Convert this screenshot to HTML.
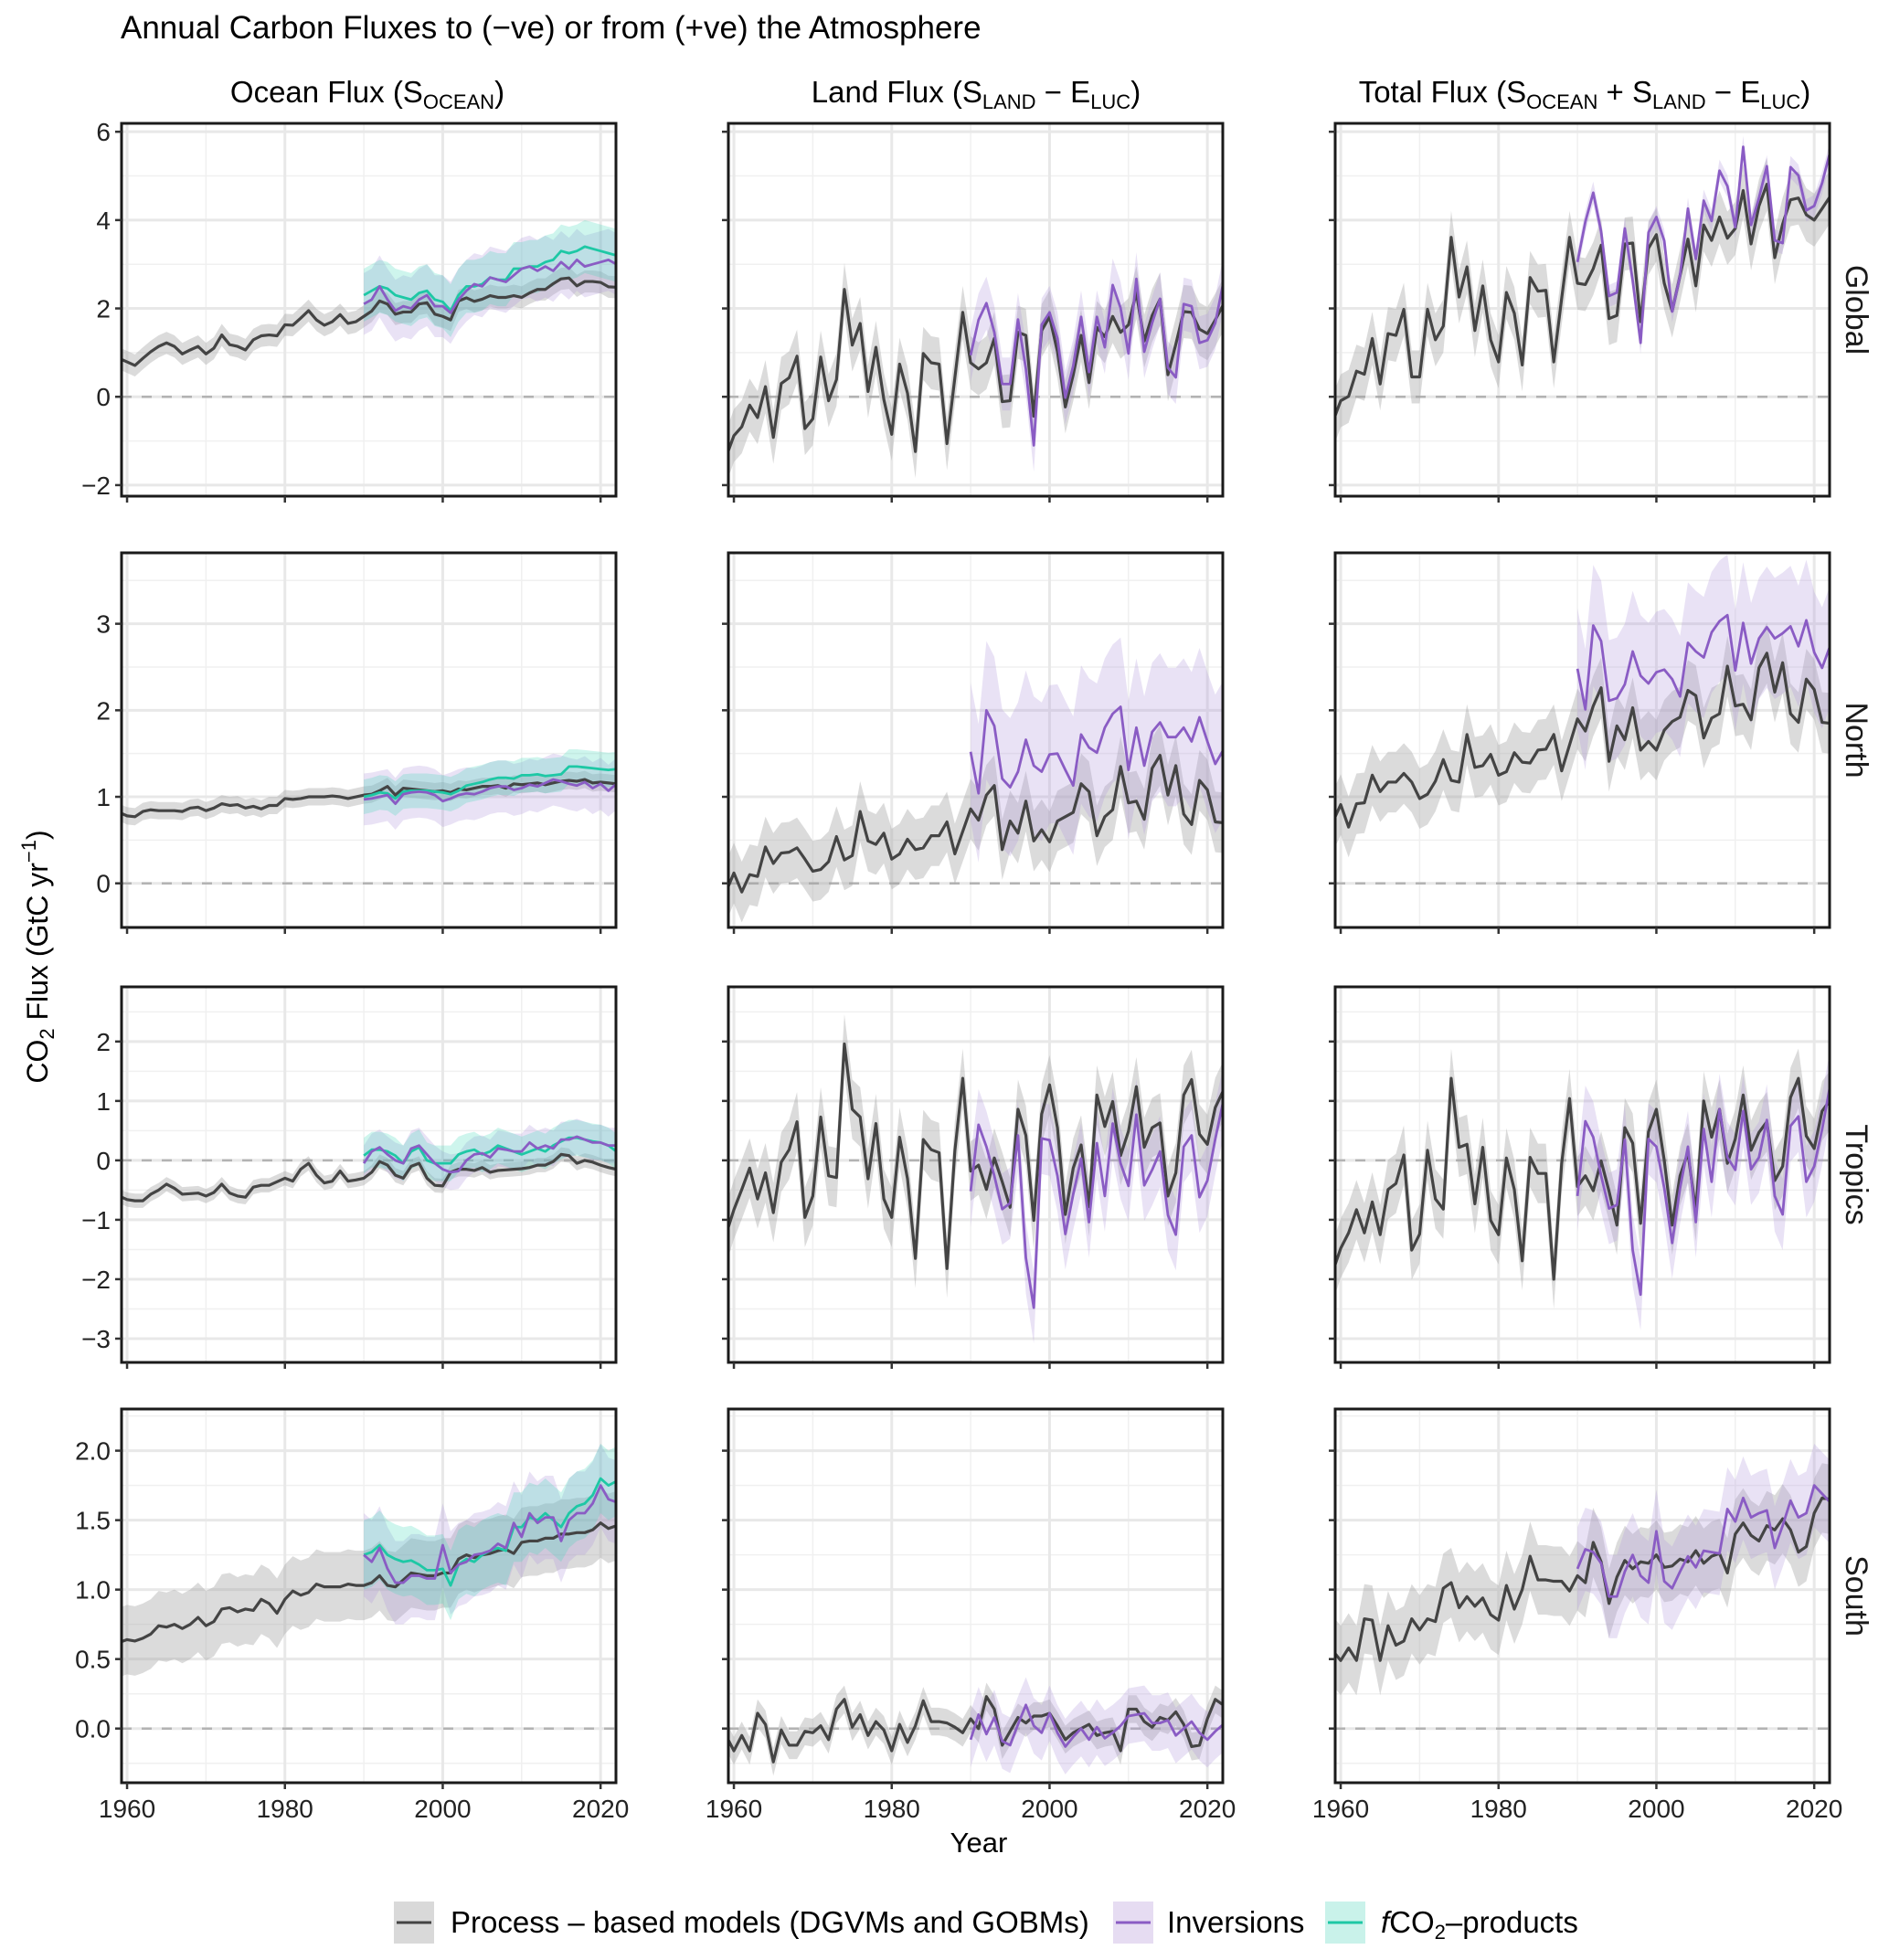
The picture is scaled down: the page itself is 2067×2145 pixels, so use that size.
<!DOCTYPE html>
<html><head><meta charset="utf-8">
<style>
html,body{margin:0;padding:0;background:#fff;}
svg{display:block;font-family:"Liberation Sans",Arial,sans-serif;}
</style></head>
<body>
<svg id="chart" width="2067" height="2145" viewBox="0 0 2067 2145" xmlns="http://www.w3.org/2000/svg">
<rect x="0" y="0" width="2067" height="2145" fill="#fff"/>
<text x="132" y="42" font-size="35" fill="#000">Annual Carbon Fluxes to (−ve) or from (+ve) the Atmosphere</text>
<text x="402" y="112" font-size="33" text-anchor="middle">Ocean Flux (S<tspan font-size="22" dy="7">OCEAN</tspan><tspan dy="-7">)</tspan></text>
<text x="1068" y="112" font-size="33" text-anchor="middle">Land Flux (S<tspan font-size="22" dy="7">LAND</tspan><tspan dy="-7"> − E</tspan><tspan font-size="22" dy="7">LUC</tspan><tspan dy="-7">)</tspan></text>
<text x="1734" y="112" font-size="33" text-anchor="middle">Total Flux (S<tspan font-size="22" dy="7">OCEAN</tspan><tspan dy="-7"> + S</tspan><tspan font-size="22" dy="7">LAND</tspan><tspan dy="-7"> − E</tspan><tspan font-size="22" dy="7">LUC</tspan><tspan dy="-7">)</tspan></text>
<text transform="translate(52,1047) rotate(-90)" font-size="32" text-anchor="middle">CO<tspan font-size="22" dy="7">2</tspan><tspan dy="-7"> Flux (GtC yr</tspan><tspan font-size="22" dy="-13">−1</tspan><tspan dy="13">)</tspan></text>
<text x="1071" y="2027" font-size="31" text-anchor="middle">Year</text>
<g>
  <rect x="431" y="2081" width="44" height="46" fill="#d9d9d9"/>
  <line x1="434" y1="2104" x2="472" y2="2104" stroke="#444" stroke-width="3"/>
  <text x="493" y="2115" font-size="33">Process – based models (DGVMs and GOBMs)</text>
  <rect x="1218" y="2081" width="44" height="46" fill="#e6dcf2"/>
  <line x1="1221" y1="2104" x2="1259" y2="2104" stroke="#8a5cc4" stroke-width="3"/>
  <text x="1277" y="2115" font-size="33">Inversions</text>
  <rect x="1450" y="2081" width="44" height="46" fill="#c9f2ea"/>
  <line x1="1453" y1="2104" x2="1491" y2="2104" stroke="#1ec8a5" stroke-width="3"/>
  <text x="1511" y="2115" font-size="33"><tspan font-style="italic">f</tspan>CO<tspan font-size="22" dy="7">2</tspan><tspan dy="-7">–products</tspan></text>
</g>
</svg>
<script>
// ---------- data (GtC/yr) ----------
const procStart = 1959;
const obsStart = 1990;
const rowNames = ["Global","North","Tropics","South"];
const colNames = ["ocean","land","total"];
const xTicks = [1960,1980,2000,2020];
const xMinor = [1970,1990,2010];
const row1Ticks = [-2,0,2,4,6];
const row2Ticks = [0,1,2,3];
const row3Ticks = [-3,-2,-1,0,1,2];
const row4Ticks = [0,0.5,1,1.5,2];
const row4Labels = ["0.0","0.5","1.0","1.5","2.0"];

const oceanGlobalProc = [0.87,0.79,0.71,0.87,1.02,1.14,1.22,1.14,0.97,1.06,1.14,0.97,1.1,1.4,1.18,1.14,1.06,1.29,1.38,1.4,1.38,1.63,1.62,1.78,1.95,1.74,1.62,1.7,1.86,1.66,1.7,1.82,1.94,2.17,2.1,1.87,1.92,1.92,2.1,2.13,1.87,1.82,1.74,2.17,2.24,2.16,2.21,2.29,2.25,2.25,2.29,2.25,2.35,2.43,2.43,2.56,2.67,2.69,2.51,2.61,2.61,2.59,2.49,2.48];
const oceanGlobalInv = [2.1,2.2,2.5,2.2,1.95,2.05,2.0,2.2,2.3,2.05,2.05,1.9,2.2,2.4,2.55,2.5,2.7,2.65,2.6,2.75,2.9,2.95,2.85,2.95,2.85,3.05,2.9,3.1,2.95,3.0,3.05,3.1,3.0];
const oceanGlobalFco2 = [2.3,2.4,2.5,2.45,2.3,2.25,2.2,2.35,2.4,2.2,2.15,1.95,2.3,2.5,2.5,2.55,2.7,2.65,2.65,2.9,2.9,2.95,2.95,3.05,3.1,3.3,3.25,3.3,3.4,3.35,3.3,3.25,3.2];
const oceanNorthProc = [0.82,0.78,0.77,0.83,0.85,0.84,0.84,0.84,0.83,0.87,0.88,0.84,0.87,0.92,0.9,0.91,0.87,0.89,0.86,0.9,0.9,0.98,0.97,0.98,1.0,1.0,1.0,1.01,1.0,0.98,1.0,1.02,1.03,1.07,1.12,1.02,1.1,1.09,1.08,1.07,1.06,1.07,1.05,1.09,1.08,1.1,1.12,1.12,1.13,1.1,1.15,1.14,1.15,1.16,1.14,1.16,1.18,1.19,1.18,1.2,1.16,1.17,1.16,1.15];
const oceanNorthInv = [0.97,0.98,1.0,1.02,0.92,1.03,1.05,1.06,1.05,1.02,0.95,0.98,1.02,1.04,1.03,1.06,1.1,1.12,1.12,1.08,1.1,1.14,1.12,1.16,1.2,1.18,1.15,1.13,1.17,1.1,1.15,1.07,1.15];
const oceanNorthFco2 = [1.0,1.02,1.05,1.04,0.98,1.06,1.07,1.07,1.07,1.06,1.05,1.03,1.07,1.13,1.15,1.17,1.2,1.22,1.22,1.21,1.25,1.25,1.26,1.24,1.25,1.26,1.35,1.35,1.34,1.33,1.32,1.31,1.32];
const oceanTropicsProc = [-0.6,-0.66,-0.68,-0.68,-0.57,-0.5,-0.4,-0.47,-0.57,-0.56,-0.55,-0.6,-0.54,-0.4,-0.55,-0.6,-0.62,-0.45,-0.42,-0.42,-0.36,-0.3,-0.35,-0.15,-0.05,-0.25,-0.38,-0.35,-0.18,-0.35,-0.33,-0.3,-0.2,-0.02,-0.08,-0.25,-0.3,-0.1,-0.05,-0.3,-0.42,-0.43,-0.2,-0.15,-0.15,-0.17,-0.12,-0.2,-0.17,-0.16,-0.15,-0.14,-0.12,-0.08,-0.08,-0.02,0.1,0.08,-0.05,0.0,-0.03,-0.08,-0.12,-0.15];
const oceanTropicsInv = [-0.05,0.15,0.22,0.1,0.0,-0.05,0.2,0.25,0.1,-0.05,-0.15,-0.2,-0.18,0.0,0.1,0.12,0.05,0.2,0.18,0.15,0.15,0.3,0.2,0.25,0.2,0.35,0.35,0.4,0.35,0.3,0.3,0.25,0.25];
const oceanTropicsFco2 = [0.08,0.18,0.18,0.15,0.08,-0.05,0.15,0.22,0.0,-0.05,-0.05,-0.05,0.1,0.15,0.18,0.1,0.15,0.25,0.2,0.15,0.1,0.15,0.2,0.15,0.25,0.32,0.38,0.38,0.35,0.32,0.3,0.25,0.15];
const oceanSouthProc = [0.62,0.64,0.63,0.65,0.68,0.74,0.73,0.75,0.72,0.75,0.8,0.74,0.77,0.86,0.87,0.84,0.86,0.85,0.93,0.9,0.83,0.93,0.99,0.96,0.98,1.04,1.02,1.02,1.02,1.04,1.03,1.03,1.05,1.1,1.03,1.02,1.07,1.12,1.11,1.1,1.1,1.12,1.12,1.22,1.25,1.23,1.25,1.26,1.28,1.29,1.26,1.34,1.35,1.35,1.37,1.37,1.4,1.4,1.41,1.41,1.43,1.48,1.44,1.46];
const oceanSouthInv = [1.25,1.2,1.3,1.15,1.05,1.05,1.1,1.1,1.08,1.08,1.32,1.12,1.18,1.2,1.25,1.26,1.28,1.33,1.3,1.48,1.38,1.55,1.48,1.52,1.52,1.35,1.5,1.55,1.55,1.62,1.75,1.65,1.63];
const oceanSouthFco2 = [1.25,1.27,1.32,1.25,1.22,1.2,1.21,1.18,1.14,1.14,1.15,1.03,1.18,1.22,1.2,1.25,1.28,1.3,1.28,1.45,1.45,1.52,1.5,1.55,1.5,1.45,1.55,1.6,1.62,1.68,1.8,1.75,1.78];

const landGlobalProc = [-1.37,-0.88,-0.68,-0.19,-0.47,0.23,-0.92,0.3,0.43,0.92,-0.72,-0.5,0.9,-0.09,0.39,2.43,1.17,1.66,0.12,1.12,-0.06,-0.85,0.74,0.08,-1.24,0.98,0.77,0.74,-1.06,0.43,1.91,0.77,0.63,0.77,1.32,-0.11,-0.09,1.46,1.39,-0.44,1.5,1.81,1.02,-0.23,0.5,1.39,0.32,1.57,1.36,1.82,1.46,1.63,2.36,1.26,1.84,2.21,0.5,1.19,1.93,1.91,1.53,1.43,1.74,2.08];
const landGlobalInv = [0.94,1.74,2.12,1.46,0.29,0.29,1.75,0.63,-1.1,1.63,1.91,1.32,-0.02,0.7,1.81,0.56,1.81,1.12,2.53,2.01,0.98,2.67,1.02,1.67,2.22,0.66,0.44,2.1,2.05,1.22,1.28,1.67,2.57];
const landNorthProc = [-0.1,0.12,-0.1,0.1,0.08,0.42,0.23,0.35,0.36,0.41,0.28,0.14,0.16,0.25,0.54,0.27,0.32,0.83,0.49,0.45,0.58,0.28,0.34,0.51,0.39,0.41,0.55,0.55,0.71,0.34,0.6,0.86,0.73,1.02,1.13,0.39,0.72,0.58,0.95,0.49,0.62,0.48,0.72,0.77,0.82,1.15,1.06,0.55,0.77,0.85,1.35,0.93,0.95,0.74,1.33,1.48,1.02,1.36,0.8,0.68,1.19,1.08,0.71,0.7];
const landNorthInv = [1.52,1.04,2.0,1.82,1.21,1.11,1.29,1.66,1.36,1.29,1.49,1.5,1.31,1.13,1.72,1.57,1.51,1.8,1.96,2.04,1.31,1.8,1.36,1.75,1.86,1.69,1.69,1.8,1.64,1.92,1.64,1.38,1.54];
const landTropicsProc = [-1.25,-0.83,-0.49,-0.13,-0.65,-0.21,-0.88,-0.03,0.18,0.65,-0.96,-0.6,0.73,-0.26,-0.29,1.96,0.86,0.73,-0.31,0.62,-0.65,-0.96,0.39,-0.31,-1.65,0.35,0.18,0.13,-1.82,0.16,1.38,-0.18,-0.08,-0.49,0.04,-0.36,-0.79,0.86,0.42,-1.01,0.78,1.27,0.55,-0.91,-0.13,0.26,-0.78,1.1,0.57,0.99,0.08,0.49,1.24,0.22,0.55,0.63,-0.6,-0.21,1.1,1.36,0.44,0.27,0.89,1.17];
const landTropicsInv = [-0.52,0.6,0.23,-0.26,-0.82,-0.72,0.42,-1.64,-2.48,0.37,0.34,-0.26,-1.24,-0.57,0.03,-1.04,0.29,-0.6,0.62,-0.05,-0.43,0.77,-0.42,-0.16,0.15,-0.92,-1.25,0.23,0.42,-0.62,-0.34,0.36,0.99];
const landSouthProc = [-0.05,-0.16,-0.05,-0.16,0.11,0.03,-0.24,-0.01,-0.12,-0.12,-0.02,-0.03,0.02,-0.08,0.14,0.21,0.01,0.1,-0.05,0.05,-0.01,-0.16,0.03,-0.1,0.02,0.2,0.05,0.05,0.04,0.01,-0.03,0.07,0.0,0.23,0.14,-0.12,-0.02,0.08,0.04,0.09,0.09,0.11,0.02,-0.08,-0.03,0.0,0.03,-0.05,-0.03,-0.02,-0.16,0.14,0.14,0.05,0.01,0.08,0.06,0.12,0.03,-0.13,-0.12,0.07,0.21,0.17];
const landSouthInv = [-0.08,0.1,-0.04,0.08,-0.09,-0.12,0.03,0.17,0.02,-0.03,0.11,-0.03,-0.13,-0.06,0.0,-0.08,0.01,-0.07,-0.03,0.02,0.09,0.1,0.11,0.04,0.04,0.06,-0.05,0.0,0.05,-0.03,-0.08,-0.02,0.03];

const totalGlobalProc = [-0.57,-0.09,0.01,0.58,0.51,1.32,0.29,1.43,1.39,1.98,0.45,0.45,1.98,1.29,1.6,3.61,2.26,2.94,1.5,2.51,1.29,0.79,2.36,1.89,0.72,2.7,2.39,2.41,0.79,2.23,3.61,2.57,2.54,2.9,3.43,1.77,1.84,3.46,3.48,1.7,3.36,3.67,2.57,1.94,2.74,3.57,2.51,3.89,3.54,4.07,3.59,3.81,4.67,3.46,4.32,4.81,3.15,3.91,4.46,4.5,4.12,4.0,4.26,4.53];
const totalGlobalInv = [3.05,3.96,4.62,3.74,2.28,2.36,3.81,2.63,1.22,3.72,4.07,3.53,1.93,2.74,4.26,3.12,4.44,3.98,5.12,4.77,3.84,5.66,3.89,4.5,5.22,3.54,3.48,5.2,5.01,4.22,4.32,4.84,5.53];
const totalNorthProc = [0.71,0.91,0.65,0.92,0.93,1.25,1.06,1.17,1.17,1.27,1.17,0.98,1.03,1.18,1.43,1.19,1.17,1.72,1.34,1.36,1.49,1.25,1.29,1.51,1.4,1.39,1.54,1.55,1.72,1.3,1.6,1.9,1.76,2.05,2.26,1.41,1.82,1.66,2.03,1.54,1.64,1.54,1.77,1.87,1.92,2.23,2.17,1.68,1.91,1.96,2.51,2.05,2.07,1.89,2.49,2.66,2.21,2.55,1.96,1.86,2.36,2.24,1.86,1.85];
const totalNorthInv = [2.48,2.01,2.98,2.8,2.11,2.14,2.3,2.68,2.4,2.31,2.44,2.47,2.36,2.16,2.78,2.68,2.61,2.9,3.03,3.1,2.46,3.01,2.54,2.83,2.96,2.83,2.89,2.97,2.74,3.04,2.67,2.49,2.74];
const totalTropicsProc = [-1.87,-1.48,-1.22,-0.83,-1.22,-0.7,-1.25,-0.49,-0.39,0.09,-1.51,-1.24,0.17,-0.65,-0.82,1.38,0.22,0.27,-0.73,0.22,-1.01,-1.25,0.04,-0.49,-1.69,0.05,-0.22,-0.22,-2.0,-0.05,1.04,-0.44,-0.26,-0.51,-0.01,-0.52,-1.09,0.55,0.29,-1.06,0.48,0.86,0.0,-1.09,-0.26,0.13,-0.86,1.0,0.39,0.86,-0.05,0.36,1.1,0.17,0.47,0.65,-0.34,-0.1,1.06,1.38,0.41,0.2,0.83,1.01];
const totalTropicsInv = [-0.6,0.66,0.39,-0.26,-0.81,-0.75,0.35,-1.51,-2.26,0.36,0.23,-0.47,-1.39,-0.47,0.23,-1.04,0.53,-0.36,0.86,0.05,-0.16,0.83,-0.15,0.05,0.68,-0.6,-0.91,0.58,0.74,-0.36,-0.1,0.52,1.25];
const totalSouthProc = [0.56,0.49,0.58,0.49,0.79,0.78,0.49,0.74,0.6,0.63,0.79,0.71,0.79,0.77,1.01,1.05,0.87,0.95,0.88,0.94,0.82,0.78,1.03,0.86,1.0,1.24,1.07,1.07,1.06,1.06,0.99,1.1,1.05,1.34,1.2,0.9,1.09,1.21,1.15,1.2,1.19,1.25,1.16,1.17,1.22,1.2,1.28,1.19,1.24,1.26,1.12,1.4,1.48,1.39,1.35,1.46,1.43,1.51,1.43,1.27,1.31,1.55,1.66,1.65];
const totalSouthInv = [1.15,1.29,1.27,1.19,0.95,0.95,1.13,1.25,1.1,1.05,1.42,1.06,1.01,1.13,1.24,1.16,1.28,1.27,1.26,1.58,1.49,1.66,1.52,1.55,1.57,1.3,1.46,1.64,1.52,1.55,1.75,1.69,1.63];

// band half-widths per panel [proc, inv, fco2]
const oceanBand = [[0.25,0.7,0.6],[0.1,0.3,0.2],[0.12,0.3,0.3],[0.25,0.3,0.25]];
const landBand = [[0.6,0.6],[0.35,0.8],[0.5,0.6],[0.1,0.2]];
const totalBand = [[0.6,0.25],[0.35,0.7],[0.5,0.6],[0.25,0.3]];
// ---------------------------------------

const NS = "http://www.w3.org/2000/svg";
const svg = document.getElementById("chart");
const colX = [133,797,1461];
const panelW = 541;
const rowY = [135,605,1080,1542];
const rowH = [408,410,411,409];
const rowDom = [[-2.25,6.19],[-0.51,3.82],[-3.4,2.92],[-0.39,2.30]];
const rowTicks = [row1Ticks,row2Ticks,row3Ticks,row4Ticks];
const xDom = [1959.3,2021.95];

const series = {
  ocean:[[oceanGlobalProc,oceanGlobalInv,oceanGlobalFco2],[oceanNorthProc,oceanNorthInv,oceanNorthFco2],[oceanTropicsProc,oceanTropicsInv,oceanTropicsFco2],[oceanSouthProc,oceanSouthInv,oceanSouthFco2]],
  land:[[landGlobalProc,landGlobalInv],[landNorthProc,landNorthInv],[landTropicsProc,landTropicsInv],[landSouthProc,landSouthInv]],
  total:[[totalGlobalProc,totalGlobalInv],[totalNorthProc,totalNorthInv],[totalTropicsProc,totalTropicsInv],[totalSouthProc,totalSouthInv]]
};
const bands = {ocean:oceanBand, land:landBand, total:totalBand};

function mk(tag, attrs, parent){
  const e = document.createElementNS(NS, tag);
  for (const k in attrs) e.setAttribute(k, attrs[k]);
  (parent||svg).appendChild(e);
  return e;
}

for (let r=0;r<4;r++){
  const top=rowY[r], h=rowH[r], dom=rowDom[r];
  const ys = v => top + (dom[1]-v)/(dom[1]-dom[0])*h;
  for (let c=0;c<3;c++){
    const left=colX[c];
    const xs = yr => left + (yr-xDom[0])/(xDom[1]-xDom[0])*panelW;
    const g = mk("g",{});
    
    
    const cid = "clip"+r+"_"+c;
    const cp = mk("clipPath",{id:cid},g);
    mk("rect",{x:left,y:top,width:panelW,height:h},cp);
    const tks = rowTicks[r];
    const step = tks[1]-tks[0];
    for (let i=0;i<tks.length+1;i++){
      const v = tks[0]-step/2 + i*step;
      if (v<=dom[0]||v>=dom[1]) continue;
      mk("line",{x1:left,x2:left+panelW,y1:ys(v),y2:ys(v),stroke:"#f0f0f0","stroke-width":1.5},g);
    }
    xMinor.forEach(yr=>mk("line",{x1:xs(yr),x2:xs(yr),y1:top,y2:top+h,stroke:"#f0f0f0","stroke-width":1.5},g));
    tks.forEach(v=>mk("line",{x1:left,x2:left+panelW,y1:ys(v),y2:ys(v),stroke:"#e8e8e8","stroke-width":3},g));
    xTicks.forEach(yr=>mk("line",{x1:xs(yr),x2:xs(yr),y1:top,y2:top+h,stroke:"#e8e8e8","stroke-width":3},g));
    const zl = mk("line",{x1:left,x2:left+panelW,y1:ys(0),y2:ys(0),stroke:"#b3b3b3","stroke-width":2.5,"stroke-dasharray":"11,11"},g);
    
    
    const data = series[colNames[c]][r];
    const bw = bands[colNames[c]][r];
    const plot = mk("g",{"clip-path":"url(#"+cid+")"},g);
    const fills = ["rgba(160,160,160,0.38)","rgba(175,150,220,0.28)","rgba(60,215,185,0.25)"];
    const strokes = ["#444444","#8a5cc4","#1ec8a5"];
    const names = ["process","inversions","fco2"];
    data.forEach((arr,si)=>{
      const st = si===0?procStart:obsStart;
      const w = bw[si];
      let up=[],lo=[];
      arr.forEach((v,i)=>{up.push(xs(st+i)+","+ys(v+w)); lo.unshift(xs(st+i)+","+ys(v-w));});
      const p = mk("polygon",{points:up.concat(lo).join(" "),fill:fills[si]},plot);
      
      
    });
    [0,2,1].forEach(si=>{
      const arr = data[si]; if(!arr) return;
      const st = si===0?procStart:obsStart;
      const pts = arr.map((v,i)=>xs(st+i)+","+ys(v)).join(" ");
      const l = mk("polyline",{points:pts,fill:"none",stroke:strokes[si],"stroke-width":si===0?3.2:2.8,"stroke-linejoin":"round"},plot);
      
      
    });
    mk("rect",{x:left,y:top,width:panelW,height:h,fill:"none",stroke:"#1a1a1a","stroke-width":3},g);
    tks.forEach((v,i)=>{
      mk("line",{x1:left-7,x2:left,y1:ys(v),y2:ys(v),stroke:"#333","stroke-width":2.5},g);
      if (c===0){
        const t = mk("text",{x:left-12,y:ys(v)+10,"font-size":28,"text-anchor":"end",fill:"#222"},g);
        t.textContent = r===3 ? row4Labels[i] : (v<0?"−"+Math.abs(v):String(v));
        
        
      }
    });
    xTicks.forEach(yr=>{
      mk("line",{x1:xs(yr),x2:xs(yr),y1:top+h,y2:top+h+7,stroke:"#333","stroke-width":2.5},g);
      if (r===3){
        const t = mk("text",{x:xs(yr),y:top+h+38,"font-size":28,"text-anchor":"middle",fill:"#222"},g);
        t.textContent = String(yr);
        
        
      }
    });
    if (c===2){
      const t = mk("text",{transform:"translate("+(left+panelW+18)+","+(top+h/2)+") rotate(90)","font-size":34,"text-anchor":"middle",fill:"#1a1a1a"},g);
      t.textContent = rowNames[r];
      
      
    }
  }
}
</script>
</body></html>
